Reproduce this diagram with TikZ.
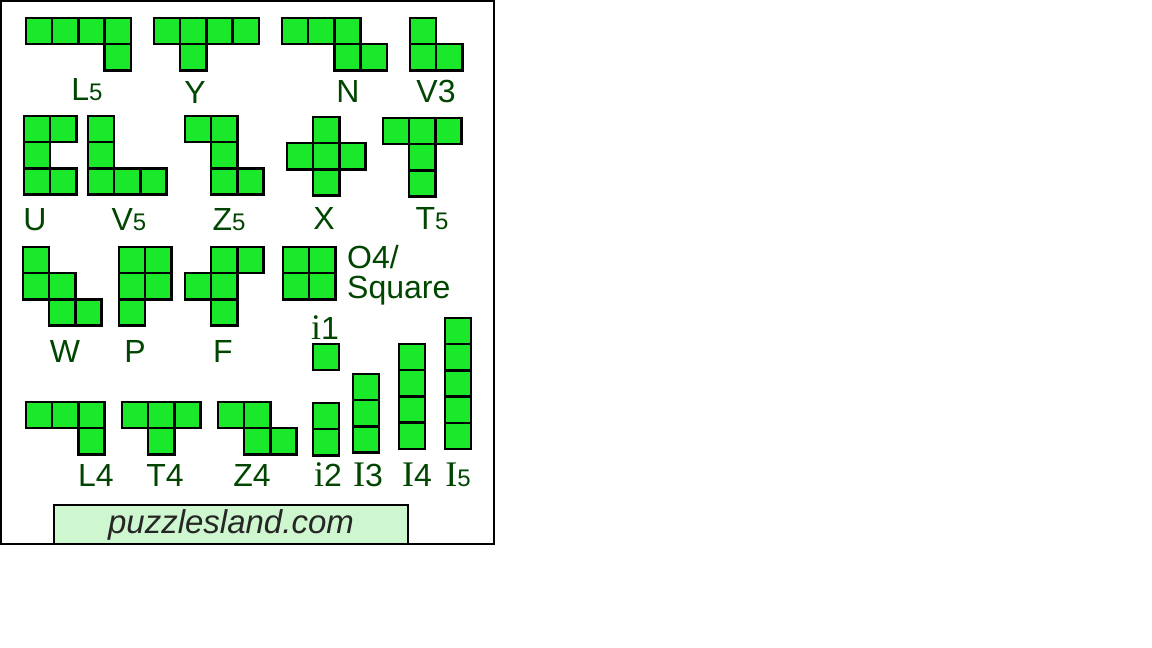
\documentclass[tikz,border=0pt]{standalone}
\usepackage{fontspec}
\setmainfont{Liberation Sans}
\newfontfamily\grazie{Liberation Serif}
\usepackage[dvipsnames]{xcolor}
\usepackage{tikz}

\definecolor{verde}{RGB}{26,232,42}
\definecolor{verdescuro}{RGB}{0,70,0}
\definecolor{verdechiaro}{RGB}{206,247,208}

\newcommand{\lato}{26.2}
\newcommand{\piccolo}[1]{{\fontsize{24}{24}\selectfont #1}}
\newcommand{\lettI}[1]{{\grazie\fontsize{36}{36}\selectfont #1}}
% un pezzo: origine x, origine y, lista delle celle col/riga
\newcommand{\pezzo}[3]{%
	\foreach \col/\riga in {#3}
		\draw[cella] ({#1+\col*\lato},{#2+\riga*\lato}) rectangle ++(\lato,\lato);
}

\begin{document}
\begin{tikzpicture}[x=1pt, y=-1pt,
		cella/.style={draw=black, line width=2.4pt, fill=verde},
		etichetta/.style={text=verdescuro, font=\fontsize{32}{32}\selectfont, anchor=base, inner sep=0pt}]
		% Sfondo e cornice
		\fill[white] (0,0) rectangle (1152,648);
		\draw[line width=2pt] (1,1) rectangle (494,544);
		
		% Pezzi
		\pezzo{26}{18}{0/0,1/0,2/0,3/0,3/1}
		\pezzo{154}{18}{0/0,1/0,2/0,3/0,1/1}
		\pezzo{282}{18}{0/0,1/0,2/0,2/1,3/1}
		\pezzo{410}{18}{0/0,0/1,1/1}
		\pezzo{24}{116}{0/0,1/0,0/1,0/2,1/2}
		\pezzo{88}{116}{0/0,0/1,0/2,1/2,2/2}
		\pezzo{185}{116}{0/0,1/0,1/1,1/2,2/2}
		\pezzo{287}{117}{1/0,0/1,1/1,2/1,1/2}
		\pezzo{383}{118}{0/0,1/0,2/0,1/1,1/2}
		\pezzo{23}{247}{0/0,0/1,1/1,1/2,2/2}
		\pezzo{119}{247}{0/0,1/0,0/1,1/1,0/2}
		\pezzo{185}{247}{1/0,2/0,0/1,1/1,1/2}
		\pezzo{283}{247}{0/0,1/0,0/1,1/1}
		\pezzo{313}{344}{0/0}
		\pezzo{26}{402}{0/0,1/0,2/0,2/1}
		\pezzo{122}{402}{0/0,1/0,2/0,1/1}
		\pezzo{218}{402}{0/0,1/0,1/1,2/1}
		\pezzo{313}{403}{0/0,0/1}
		\pezzo{353}{374}{0/0,0/1,0/2}
		\pezzo{399}{344}{0/0,0/1,0/2,0/3}
		\pezzo{445}{318}{0/0,0/1,0/2,0/3,0/4}
		
		% Etichette
		\node[etichetta] (L5) at (87,100) {L\piccolo{5}};
		\node[etichetta] (Y) at (195,103) {Y};
		\node[etichetta] (N) at (348,102) {N};
		\node[etichetta] (V3) at (436,102) {V3};
		\node[etichetta] (U) at (35,230) {U};
		\node[etichetta] (V5) at (129,230) {V\piccolo{5}};
		\node[etichetta] (Z5) at (229,230) {Z\piccolo{5}};
		\node[etichetta] (X) at (324,229) {X};
		\node[etichetta] (T5) at (432,229) {T\piccolo{5}};
		\node[etichetta] (W) at (65,362) {W};
		\node[etichetta] (P) at (135,362) {P};
		\node[etichetta] (F) at (223,362) {F};
		\node[etichetta, anchor=base west, align=left, font=\fontsize{32}{30}\selectfont] (O4) at (347,298) {O4/\\Square};
		\node[etichetta] (i1) at (325,339) {\lettI{i}1};
		\node[etichetta] (L4) at (96,486) {L4};
		\node[etichetta] (T4) at (165,486) {T4};
		\node[etichetta] (Z4) at (252,486) {Z4};
		\node[etichetta] (i2) at (328,486) {\lettI{i}2};
		\node[etichetta] (I3) at (368,486) {\lettI{I}3};
		\node[etichetta] (I4) at (417,486) {\lettI{I}4};
		\node[etichetta] (I5) at (458,486) {\lettI{I}\piccolo{5}};
		
		% Riquadro del sito
		\node[draw, line width=2pt, fill=verdechiaro, minimum width=354pt, minimum height=39pt, inner sep=0pt, anchor=north west, text=black!85, font=\fontsize{33}{33}\selectfont\itshape] (Sito) at (53,504) {puzzlesland.com};
	\end{tikzpicture}
\end{document}
